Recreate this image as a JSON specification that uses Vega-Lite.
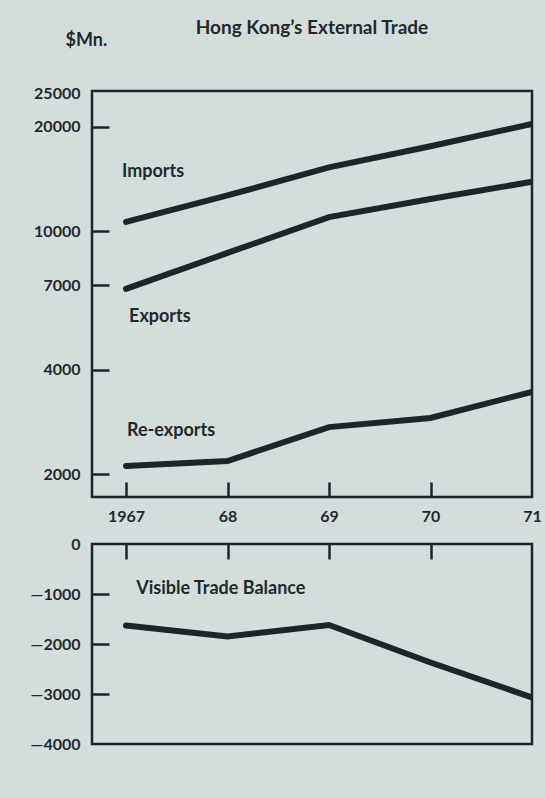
{
  "$schema": "https://vega.github.io/schema/vega-lite/v6.json",
  "background": "#d3dddc",
  "padding": {"left": 28, "top": 18, "right": 8, "bottom": 53},
  "title": {
    "text": "Hong Kong’s External Trade",
    "font": "Lato",
    "fontSize": 19,
    "fontWeight": "bold",
    "color": "#1f2a2c",
    "anchor": "middle",
    "frame": "group",
    "offset": -8
  },
  "config": {
    "view": {"stroke": "#1c2628", "strokeWidth": 2.5},
    "axis": {
      "domain": false,
      "grid": false,
      "labelFont": "Lato",
      "labelFontSize": 16,
      "labelFontWeight": "bold",
      "labelColor": "#1f2a2c",
      "tickColor": "#1c2628",
      "tickWidth": 2.5,
      "titleFont": "Lato",
      "titleFontSize": 18,
      "titleFontWeight": "bold",
      "titleColor": "#1f2a2c"
    },
    "text": {"font": "Lato", "fontSize": 18, "fontWeight": "bold", "color": "#1f2a2c"},
    "concat": {"spacing": 47}
  },
  "datasets": {
    "trade": [
      {"year": 1967, "series": "Imports", "value": 10650},
      {"year": 1968, "series": "Imports", "value": 12700},
      {"year": 1969, "series": "Imports", "value": 15300},
      {"year": 1970, "series": "Imports", "value": 17600},
      {"year": 1971, "series": "Imports", "value": 20400},
      {"year": 1967, "series": "Exports", "value": 6830},
      {"year": 1968, "series": "Exports", "value": 8670},
      {"year": 1969, "series": "Exports", "value": 11000},
      {"year": 1970, "series": "Exports", "value": 12400},
      {"year": 1971, "series": "Exports", "value": 13900},
      {"year": 1967, "series": "Re-exports", "value": 2110},
      {"year": 1968, "series": "Re-exports", "value": 2180},
      {"year": 1969, "series": "Re-exports", "value": 2730},
      {"year": 1970, "series": "Re-exports", "value": 2900},
      {"year": 1971, "series": "Re-exports", "value": 3450}
    ],
    "tradeLabels": [
      {"label": "Imports", "year": 1966.96, "value": 14800},
      {"label": "Exports", "year": 1967.03, "value": 5670},
      {"label": "Re-exports", "year": 1967.01, "value": 2660}
    ],
    "balance": [
      {"year": 1967, "value": -1630},
      {"year": 1968, "value": -1850},
      {"year": 1969, "value": -1620},
      {"year": 1970, "value": -2370},
      {"year": 1971, "value": -3070}
    ],
    "balanceLabels": [
      {"label": "Visible Trade Balance", "year": 1967.1, "value": -900}
    ]
  },
  "bounds": "flush",
  "vconcat": [
    {
      "width": 440,
      "height": 406,
      "layer": [
        {
          "data": {"name": "trade"},
          "mark": {"type": "line", "strokeWidth": 6, "strokeCap": "round", "color": "#1c2628", "clip": true},
          "encoding": {
            "x": {
              "field": "year", "type": "quantitative",
              "scale": {"domain": [1966.665, 1971], "nice": false, "zero": false},
              "axis": {
                "orient": "bottom", "title": null, "ticks": false,
                "values": [1967, 1968, 1969, 1970, 1971],
                "labelExpr": "datum.value == 1967 ? '1967' : slice(toString(datum.value), 2)",
                "labelPadding": 11, "labelFlush": false
              }
            },
            "y": {
              "field": "value", "type": "quantitative",
              "scale": {"type": "log", "domain": [1717, 25390], "nice": false},
              "axis": {
                "orient": "left", "ticks": false,
                "values": [2000, 4000, 7000, 10000, 20000, 25000],
                "format": "d",
                "labelPadding": 12,
                "labelFlush": false,
                "title": "$Mn.",
                "titleAngle": 0,
                "titleAlign": "left",
                "titleBaseline": "alphabetic",
                "titleX": -27,
                "titleY": -46
              }
            },
            "detail": {"field": "series"}
          }
        },
        {
          "data": {"name": "tradeLabels"},
          "mark": {"type": "text", "align": "left", "baseline": "middle"},
          "encoding": {
            "x": {
              "field": "year", "type": "quantitative",
              "axis": {
                "orient": "top", "offset": -406, "labels": false, "title": null,
                "values": [1967, 1968, 1969, 1970], "tickSize": 15
              }
            },
            "y": {
              "field": "value", "type": "quantitative",
              "axis": {
                "orient": "right", "offset": -440, "labels": false, "title": null,
                "values": [2000, 4000, 7000, 10000, 20000], "tickSize": 17
              }
            },
            "text": {"field": "label"}
          }
        }
      ]
    },
    {
      "width": 440,
      "height": 200,
      "layer": [
        {
          "data": {"name": "balance"},
          "mark": {"type": "line", "strokeWidth": 6, "strokeCap": "round", "color": "#1c2628", "clip": true},
          "encoding": {
            "x": {
              "field": "year", "type": "quantitative",
              "scale": {"domain": [1966.665, 1971], "nice": false, "zero": false},
              "axis": {
                "orient": "bottom", "offset": -200, "labels": false, "title": null,
                "values": [1967, 1968, 1969, 1970], "tickSize": 15
              }
            },
            "y": {
              "field": "value", "type": "quantitative",
              "scale": {"domain": [-4000, 0], "nice": false},
              "axis": {
                "orient": "left", "ticks": false, "title": null,
                "values": [0, -1000, -2000, -3000, -4000],
                "labelExpr": "datum.value < 0 ? '—' + toString(abs(datum.value)) : '0'",
                "labelPadding": 12, "labelFlush": false
              }
            }
          }
        },
        {
          "data": {"name": "balanceLabels"},
          "mark": {"type": "text", "align": "left", "baseline": "middle"},
          "encoding": {
            "x": {"field": "year", "type": "quantitative"},
            "y": {
              "field": "value", "type": "quantitative",
              "axis": {
                "orient": "right", "offset": -440, "labels": false, "title": null,
                "values": [-1000, -2000, -3000], "tickSize": 17
              }
            },
            "text": {"field": "label"}
          }
        }
      ]
    }
  ]
}
